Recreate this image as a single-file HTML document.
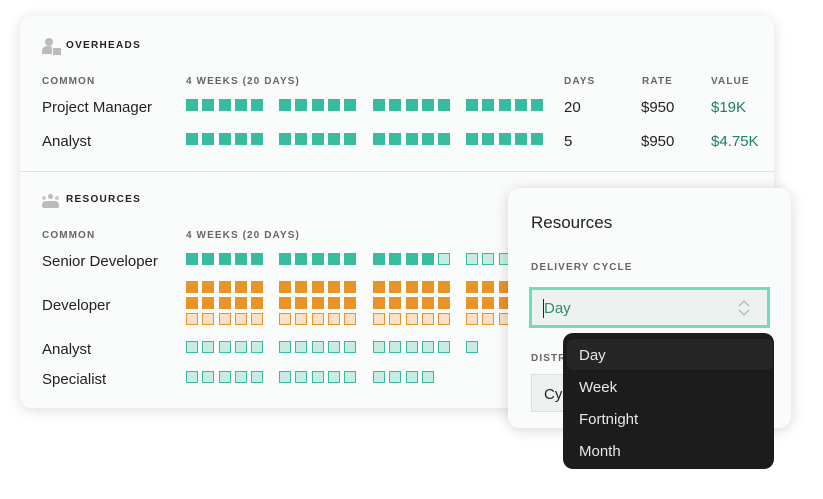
<!DOCTYPE html>
<html><head><meta charset="utf-8"><style>
body{margin:0;width:823px;height:499px;background:#fff;position:relative;overflow:hidden;font-family:"Liberation Sans",sans-serif;color:#222}
.card{position:absolute;left:20px;top:16px;width:754px;height:392px;background:#fafbfb;border-radius:12px;box-shadow:0 2px 14px rgba(0,0,0,.14)}
.a{position:absolute;white-space:nowrap}
.h{font-size:10px;font-weight:bold;letter-spacing:1.3px;color:#222}
.c{font-size:10px;font-weight:bold;letter-spacing:1.1px;color:#666}
.n{font-size:15px;color:#222}
.sq{position:absolute;width:12px;height:12px;box-sizing:border-box}
.f{background:#37bc9f}
.l{background:#c8ece3;border:1.5px solid #37bc9f}
.o{background:#ea9327}
.ol{background:#f8e1c6;border:1.5px solid #ea9327}
.pop{position:absolute;left:508px;top:188px;width:283px;height:240px;background:#fafbfb;border-radius:12px;box-shadow:0 2px 14px rgba(0,0,0,.16)}
.dd{position:absolute;left:563px;top:333px;width:211px;height:136px;background:#1c1c1c;border-radius:10px}
.di{position:absolute;left:16px;font-size:15px;color:#e8e8e8}
</style></head><body>
<div class="card"></div>
<div class="a" style="left:42px;top:38px;width:18px;height:16px">
 <div style="position:absolute;left:3px;top:0;width:8px;height:8px;border-radius:50%;background:#bbb"></div>
 <div style="position:absolute;left:0;top:8px;width:12px;height:8px;border-radius:5px 5px 0 0;background:#bbb"></div>
 <div style="position:absolute;left:10px;top:9px;width:8px;height:7px;background:#bbb;border:1px solid #fafbfb"></div>
</div>
<div class="a h" style="left:66px;top:40px">OVERHEADS</div>
<div class="a c" style="left:42px;top:76px">COMMON</div>
<div class="a c" style="left:186px;top:76px">4 WEEKS (20 DAYS)</div>
<div class="a c" style="left:564px;top:76px">DAYS</div>
<div class="a c" style="left:642px;top:76px">RATE</div>
<div class="a c" style="left:711px;top:76px">VALUE</div>
<div class="a n" style="left:42px;top:99px">Project Manager</div>
<div class="a n" style="left:42px;top:133px">Analyst</div>
<div class="a n" style="left:564px;top:99px">20</div>
<div class="a n" style="left:641px;top:99px">$950</div>
<div class="a n" style="left:711px;top:99px;color:#1f7d63">$19K</div>
<div class="a n" style="left:564px;top:133px">5</div>
<div class="a n" style="left:641px;top:133px">$950</div>
<div class="a n" style="left:711px;top:133px;color:#1f7d63">$4.75K</div>
<div class="a" style="left:20px;top:171px;width:754px;height:1px;background:#e2e4e4"></div>
<div class="a" style="left:42px;top:194px;width:18px;height:14px">
 <div style="position:absolute;left:6px;top:0;width:5px;height:5px;border-radius:50%;background:#bbb"></div>
 <div style="position:absolute;left:0;top:2px;width:4px;height:4px;border-radius:50%;background:#ccc"></div>
 <div style="position:absolute;left:13px;top:2px;width:4px;height:4px;border-radius:50%;background:#ccc"></div>
 <div style="position:absolute;left:0;top:7px;width:17px;height:7px;border-radius:4px 4px 2px 2px;background:#bbb"></div>
</div>
<div class="a h" style="left:66px;top:194px">RESOURCES</div>
<div class="a c" style="left:42px;top:230px">COMMON</div>
<div class="a c" style="left:186px;top:230px">4 WEEKS (20 DAYS)</div>
<div class="a n" style="left:42px;top:253px">Senior Developer</div>
<div class="a n" style="left:42px;top:297px">Developer</div>
<div class="a n" style="left:42px;top:341px">Analyst</div>
<div class="a n" style="left:42px;top:371px">Specialist</div>
<div id="sq"></div>
<div class="pop"></div>
<div class="a" style="left:531px;top:213px;font-size:17px;color:#222">Resources</div>
<div class="a c" style="left:531px;top:262px">DELIVERY CYCLE</div>
<div class="a" style="left:529px;top:287px;width:241px;height:41px;box-sizing:border-box;border:3px solid #6fdcc0;background:#edf1ef"></div>
<div class="a" style="left:543px;top:299px;width:1px;height:19px;background:#222"></div>
<div class="a" style="left:544px;top:300px;font-size:15px;color:#2a8c72">Day</div>
<svg class="a" style="left:737px;top:298px" width="14" height="20" viewBox="0 0 14 20"><path d="M2 8 L7 3 L12 8 M2 12 L7 17 L12 12" fill="none" stroke="#bbb" stroke-width="1.5"/></svg>
<div class="a c" style="left:531px;top:353px">DISTR</div>
<div class="a" style="left:531px;top:374px;width:60px;height:38px;box-sizing:border-box;border:1px solid #dde0df;background:#edf1ef"></div>
<div class="a n" style="left:544px;top:386px">Cyc</div>
<div class="a n" style="left:570px;top:390px;color:#222">Left</div>
<div class="dd">
 <div style="position:absolute;left:4px;top:6px;width:206px;height:31px;background:#262626;border-radius:6px"></div>
 <div class="di" style="top:14px">Day</div>
 <div class="di" style="top:46px">Week</div>
 <div class="di" style="top:78px">Fortnight</div>
 <div class="di" style="top:110px">Month</div>
</div>
<script>
var g=[186,279,373,466],o=[0,16,33,49,65],h='';
function row(y,spec){for(var i=0;i<spec.length;i++){var gi=Math.floor(i/5),k=i%5,x=g[gi]+o[k];if(x>=508&&y>180)continue;var t=spec[i];if(t=='.')continue;h+='<div class="sq '+{F:'f',L:'l',O:'o',P:'ol'}[t]+'" style="left:'+x+'px;top:'+y+'px"></div>';}}
function r(c,n){return c.repeat(n)}
row(99,r('F',20));row(133,r('F',20));
row(253,r('F',14)+'L'+r('L',5));
row(281,r('O',20));row(297,r('O',20));row(313,r('P',20));
row(341,r('L',15)+'L');
row(371,r('L',14));
document.getElementById('sq').innerHTML=h;
</script>
</body></html>
